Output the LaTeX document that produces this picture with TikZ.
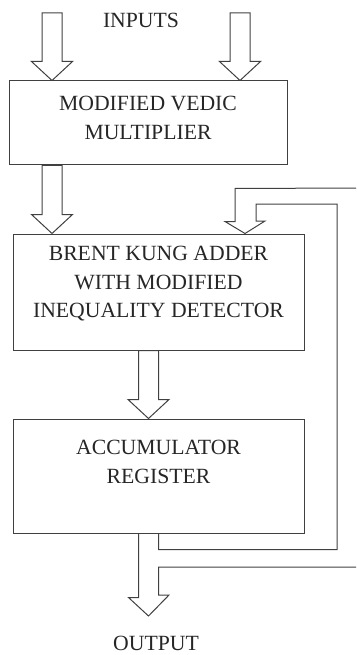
\documentclass[tikz,border=0pt]{standalone}
\usepackage{fontspec}
\setmainfont{Liberation Serif}
\usepackage{tikz}
\usetikzlibrary{positioning}
\usetikzlibrary{calc}

\tikzset{
  blockline/.style={draw=black!75, line width=1pt, line join=miter},
  unitbox/.style={rectangle, draw=black!75, line width=1pt, inner sep=0pt},
  boxtext/.style={align=center, inner sep=0pt, text=black!85,
    font=\fontsize{21.7pt}{28.5pt}\selectfont},
}

% vertical block arrow from #1 down to the tip #2
\newcommand{\blockarrow}[2]{%
  \draw[blockline] let \p1=(#1), \p2=(#2) in
    (\x2-10pt,\y1) -- (\x2-10pt,\y2+19pt) -- (\x2-20.5pt,\y2+19pt) -- (\x2,\y2)
    -- (\x2+20.5pt,\y2+19pt) -- (\x2+10pt,\y2+19pt) -- (\x2+10pt,\y1) -- cycle;}

\begin{document}
\begin{tikzpicture}[x=1pt, y=-1pt]
  \useasboundingbox (0,0) rectangle (356,655);

  \node[unitbox, minimum width=278pt, minimum height=84pt]  (vedic) at (148,123) {};
  \node[unitbox, minimum width=291pt, minimum height=116pt] (brent) [below=68pt of vedic, xshift=10.5pt] {};
  \node[unitbox, minimum width=291pt, minimum height=114pt] (accum) [below=68pt of brent] {};

  \node[boxtext] (vedictext) [below=15.6pt of vedic.north] {MODIFIED VEDIC\\MULTIPLIER};
  \node[boxtext] (brenttext) [below=12.6pt of brent.north] {BRENT KUNG ADDER\\WITH MODIFIED\\INEQUALITY DETECTOR};
  \node[boxtext] (accumtext) [below=21.6pt of accum.north] {ACCUMULATOR\\REGISTER};

  \node[boxtext, anchor=base] (inputs) at (141,28)  {INPUTS};
  \node[boxtext, anchor=base] (output) at (156,650) {OUTPUT};

  \coordinate (inleft)   at (52,13);
  \coordinate (inright)  at (240,13);
  \coordinate (outtip)   at (148.5,616);
  \coordinate (fbtip)    at ([xshift=86.5pt]brent.north);
  \coordinate (fbcorner) at (337,204);
  \coordinate (loopA)    at (356,188);
  \coordinate (loopB)    at (356,567);

  % inputs and data path
  \blockarrow{inleft}{vedic.north -| inleft}
  \blockarrow{inright}{vedic.north -| inright}
  \blockarrow{vedic.south -| inleft}{brent.north -| inleft}
  \blockarrow{brent.south -| outtip}{accum.north -| outtip}

  % output arrow and feedback loop
  \draw[blockline] ([xshift=-20pt]accum.south) -- ++(0,64) -- ++(-10,0) -- (outtip)
    -- ++(20.5,-21) -- ++(-10.5,0) -- (loopB -| accum.south) -- (loopB);
  \draw[blockline] (accum.south) -- ++(0,16) -| (fbcorner) -- ++(-81,0) -- ++(0,17)
    -- ++(9,0) -- (fbtip) -- ++(-20,-12) -- ++(10,0) -- ++(0,-33) -- (loopA);
\end{tikzpicture}
\end{document}
